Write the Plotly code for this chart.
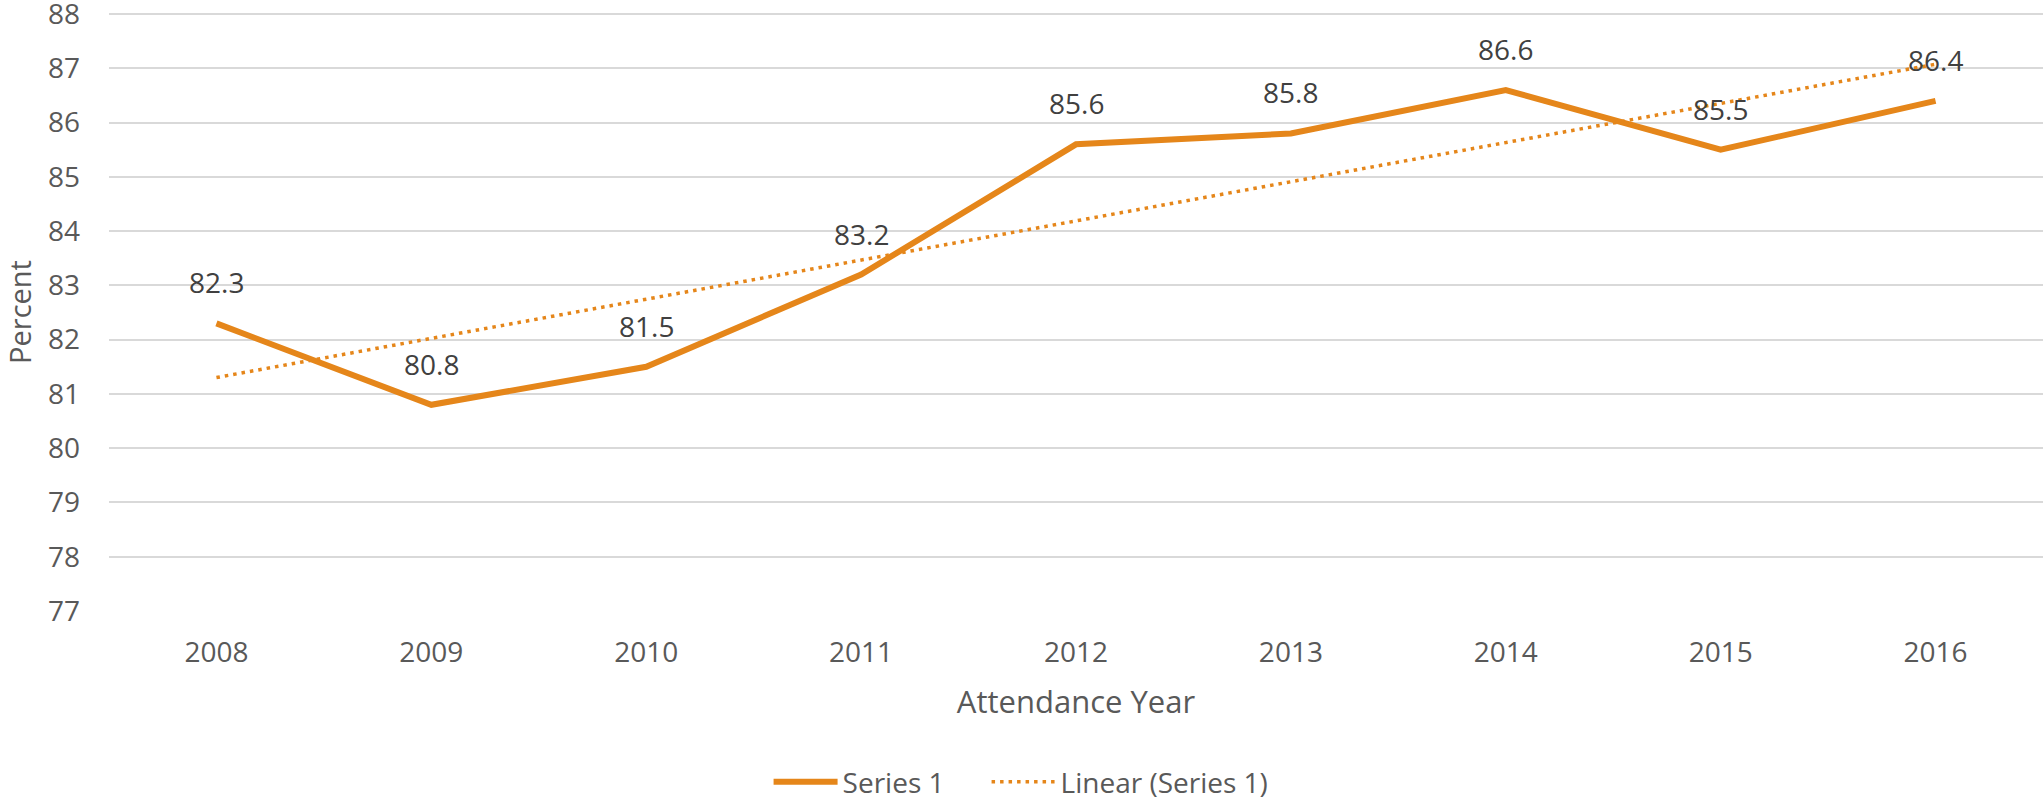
import numpy as np
import plotly.graph_objects as go

years = [2008, 2009, 2010, 2011, 2012, 2013, 2014, 2015, 2016]
values = [82.3, 80.8, 81.5, 83.2, 85.6, 85.8, 86.6, 85.5, 86.4]
y_ticks = list(range(77, 89))

ORANGE = "#E5861A"
FONT = "Open Sans"

# Linear trendline (least-squares fit of the series, like Excel's "Linear" trendline)
coef = np.polyfit(years, values, 1)
trend = np.polyval(coef, years)

fig = go.Figure()
fig.add_trace(go.Scatter(
    x=years, y=values, mode="lines", name="Series 1",
    line=dict(color=ORANGE, width=6), legend="legend",
))
fig.add_trace(go.Scatter(
    x=years, y=trend, mode="lines", name="Linear (Series 1)",
    line=dict(color=ORANGE, width=3.5, dash="3.5px,5px"), legend="legend2",
))

for yr, v in zip(years, values):
    fig.add_annotation(
        x=yr, y=v, text=f"{v:.1f}", showarrow=False, yshift=41,
        font=dict(family=FONT, size=28, color="#404040"),
    )

legend_common = dict(
    orientation="h", xref="container", yref="container",
    xanchor="left", y=0.0225, yanchor="middle",
    font=dict(family=FONT, size=28, color="#595959"),
    itemwidth=64,
)

fig.update_layout(
    width=2043, height=800,
    margin=dict(l=109, r=0, t=13, b=189, autoexpand=False),
    paper_bgcolor="white", plot_bgcolor="white",
    font=dict(family=FONT, size=28, color="#595959"),
    showlegend=True,
    legend=dict(x=0.3762, **legend_common),
    legend2=dict(x=0.4829, **legend_common),
    xaxis=dict(
        range=[2007.5, 2016.5], tickvals=years, ticktext=[str(y) for y in years],
        showgrid=False, zeroline=False, showline=False,
        ticklabelstandoff=22,
        tickfont=dict(family=FONT, size=28, color="#595959"),
        title=dict(text="Attendance Year", standoff=22,
                   font=dict(family=FONT, size=31, color="#595959")),
    ),
    yaxis=dict(
        range=[77, 88.02], tickvals=y_ticks,
        showgrid=True, gridcolor="#D9D9D9", gridwidth=2,
        zeroline=False, showline=False,
        ticklabelstandoff=28, ticklabeloverflow="allow",
        tickfont=dict(family=FONT, size=28, color="#595959"),
        title=dict(text="Percent", standoff=12,
                   font=dict(family=FONT, size=29, color="#595959")),
    ),
)

fig.write_html("out.html", config={"displayModeBar": False},
               post_script="document.body.style.margin='0';")
